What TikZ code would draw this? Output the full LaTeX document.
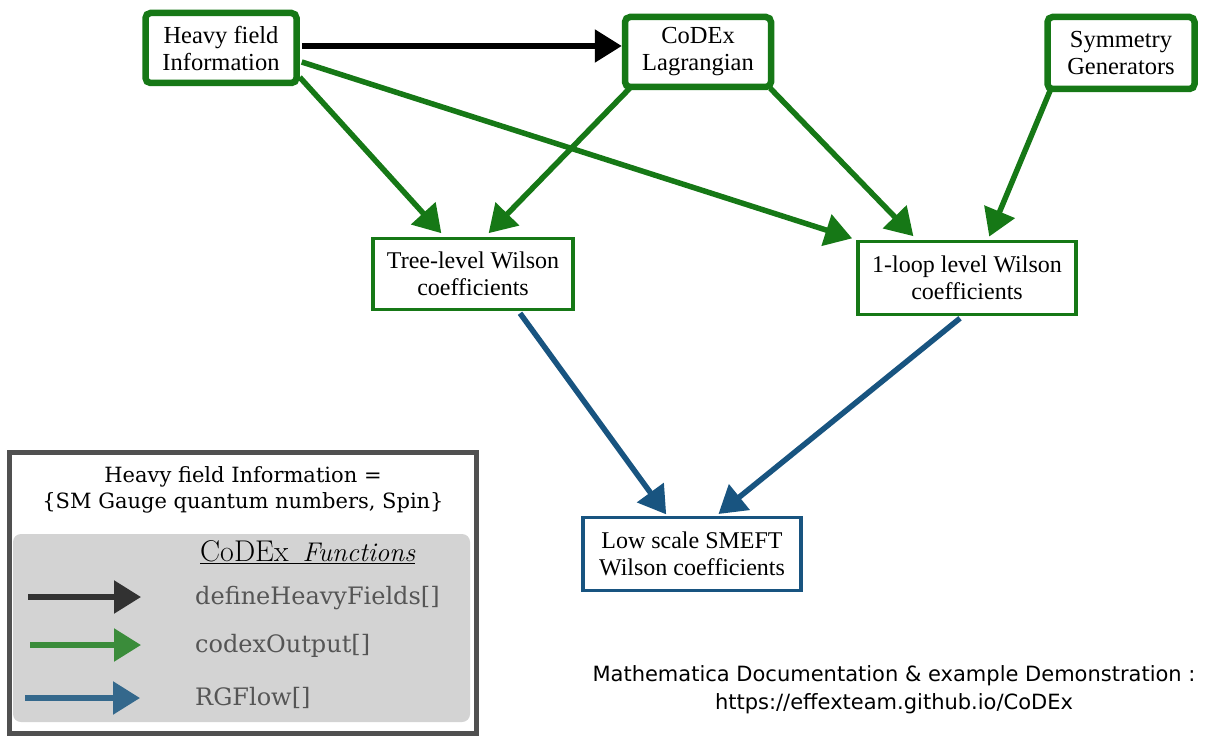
\documentclass[tikz,border=0pt]{standalone}
\usepackage{fontspec}
\newfontfamily\boxfont{Liberation Serif}
\newfontfamily\legfont{DejaVu Serif}
\newfontfamily\notefont{DejaVu Sans}
\usetikzlibrary{arrows.meta,calc}
\definecolor{boxgreen}{RGB}{22,120,22}
\definecolor{boxblue}{RGB}{24,84,128}
\definecolor{leggreen}{RGB}{58,140,58}
\definecolor{legblue}{RGB}{52,104,140}
\definecolor{legblack}{RGB}{50,50,50}
\definecolor{legfill}{RGB}{211,211,211}
\definecolor{legtext}{RGB}{85,85,85}
\definecolor{frame}{RGB}{80,80,80}
\tikzset{
  topbox/.style={draw=boxgreen,line width=6.5pt,rounded corners=5pt,fill=white,align=center,
    font=\boxfont\fontsize{24.5}{27}\selectfont,inner sep=0pt},
  midbox/.style={draw=boxgreen,line width=3.5pt,fill=white,align=center,
    font=\boxfont\fontsize{24}{27}\selectfont,inner sep=0pt},
  lowbox/.style={midbox,draw=boxblue},
  garrow/.style={draw=boxgreen,line width=5.5pt,-{Triangle[length=27pt,width=32pt]},shorten >=-2pt},
  barrow/.style={garrow,draw=boxblue},
  karrow/.style={garrow,draw=black},
  legtxt/.style={font=\legfont\fontsize{24}{28}\selectfont,text=legtext,anchor=west,inner sep=0pt}
}
\begin{document}
\begin{tikzpicture}[x=1pt,y=-1pt]
\useasboundingbox (0,0) rectangle (1206,738);
% nodes
\node[topbox,minimum width=151pt,minimum height=70pt] (heavy) at (221,48) {Heavy field\\Information};
\node[topbox,minimum width=146pt,minimum height=70pt] (codex) at (698,52) {CoDEx\\Lagrangian};
\node[topbox,minimum width=147pt,minimum height=72pt] (sym) at (1121,53) {Symmetry\\Generators};
\node[midbox,minimum width=200pt,minimum height=71pt] (tree) at (473,274) {Tree-level Wilson\\coefficients};
\node[midbox,minimum width=218pt,minimum height=73pt] (loop) at (967,278) {1-loop level Wilson\\coefficients};
\node[lowbox,minimum width=218pt,minimum height=73pt] (low) at (692,554) {Low scale SMEFT\\Wilson coefficients};
% arrows
\draw[karrow] ([xshift=2pt,yshift=2pt]heavy.east) -- ([xshift=-2pt,yshift=6pt]codex.west);
\draw[garrow] ([xshift=0pt,yshift=9pt]heavy.south east) -- ([xshift=-33pt,yshift=5pt]tree.north);
\draw[garrow] ([xshift=2pt,yshift=-14pt]heavy.east) -- ([xshift=-6pt,yshift=2pt]loop.north west);
\draw[garrow] ([xshift=8pt,yshift=2pt]codex.south west) -- ([xshift=17pt,yshift=5pt]tree.north);
\draw[garrow] ([xshift=-4pt,yshift=2pt]codex.south east) -- ([xshift=-55pt,yshift=5pt]loop.north);
\draw[garrow] ([xshift=6pt,yshift=2pt]sym.south west) -- ([xshift=23pt,yshift=5pt]loop.north);
\draw[barrow] ([xshift=47pt,yshift=-2pt]tree.south) -- ([xshift=-27pt,yshift=3pt]low.north);
\draw[barrow] ([xshift=-7pt,yshift=-2pt]loop.south) -- ([xshift=28pt,yshift=3pt]low.north);
% legend
\draw[draw=frame,line width=5pt,fill=white] (9,452) rectangle (476,733);
\node[font=\legfont\fontsize{21}{26}\selectfont,align=center] (info) at (243,490) {Heavy field Information =\\\{SM Gauge quantum numbers, Spin\}};
\fill[legfill,rounded corners=8pt] (13,534) rectangle (470,722);
\node[inner sep=0pt,anchor=base west] (fnt) at (200,561) {\underline{\fontsize{30}{34}\selectfont CoDEx~\,\textit{\fontsize{27}{30}\selectfont Functions}}};
\node[legtxt] (t1) at (195,598) {defineHeavyFields[]};
\node[legtxt] (t2) at (195,646) {codexOutput[]};
\node[legtxt] (t3) at (195,698) {RGFlow[]};
\coordinate (a1s) at (28,597); \coordinate (a1e) at (139,597);
\coordinate (a2s) at (30,645); \coordinate (a2e) at (139,645);
\coordinate (a3s) at (25,698); \coordinate (a3e) at (138,698);
\draw[karrow,draw=legblack] (a1s) -- (a1e);
\draw[garrow,draw=leggreen] (a2s) -- (a2e);
\draw[barrow,draw=legblue] (a3s) -- (a3e);
% note
\node[font=\notefont\fontsize{21}{28}\selectfont,align=center] (note) at (894,690) {Mathematica Documentation \& example Demonstration :\\https://effexteam.github.io/CoDEx};
\end{tikzpicture}
\end{document}
